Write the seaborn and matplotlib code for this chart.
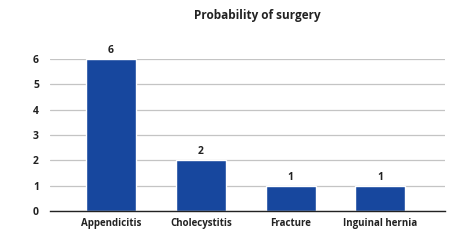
import pandas as pd
import matplotlib.pyplot as plt
import seaborn as sns

# Chart data
conditions = ["Appendicitis", "Cholecystitis", "Fracture", "Inguinal hernia"]
counts = [6, 2, 1, 1]
y_ticks = [0, 1, 2, 3, 4, 5, 6]

df = pd.DataFrame({"Condition": conditions, "Count": counts})

sns.set_style("white")
plt.rcParams["font.family"] = ["Open Sans", "DejaVu Sans"]

fig = plt.figure(figsize=(4.49, 2.49), dpi=100)
ax = fig.add_axes([0.1114, 0.1526, 0.8797, 0.6104])

sns.barplot(data=df, x="Condition", y="Count", color="#17479e",
            saturation=1, width=0.555, ax=ax, zorder=3)

# Gridlines and axes styling
ax.set_ylim(0, 6)
ax.set_xlim(-0.68, 3.72)
ax.set_yticks(y_ticks)
ax.yaxis.grid(True, color="#c4c4c4", linewidth=0.9, zorder=0)
ax.set_axisbelow(True)
for side in ["top", "right", "left"]:
    ax.spines[side].set_visible(False)
ax.spines["bottom"].set_color("#222222")
ax.spines["bottom"].set_linewidth(1.0)
ax.spines["bottom"].set_zorder(4)
ax.tick_params(axis="both", length=0, labelsize=7, colors="#222222")
ax.tick_params(axis="y", pad=8, labelsize=7.5)
ax.tick_params(axis="x", pad=5)
for lbl in ax.get_xticklabels() + ax.get_yticklabels():
    lbl.set_fontweight("bold")
ax.set_xlabel("")
ax.set_ylabel("")

# Value labels above bars
for i, value in enumerate(counts):
    ax.text(i, value + 0.12, str(value), ha="center", va="bottom",
            fontsize=7.5, fontweight="bold", color="#222222")

fig.text(257 / 449, 1 - 15 / 249, "Probability of surgery", ha="center",
         va="center", fontsize=8.5, fontweight="bold", color="#222222")

fig.savefig("out.png", dpi=100)
